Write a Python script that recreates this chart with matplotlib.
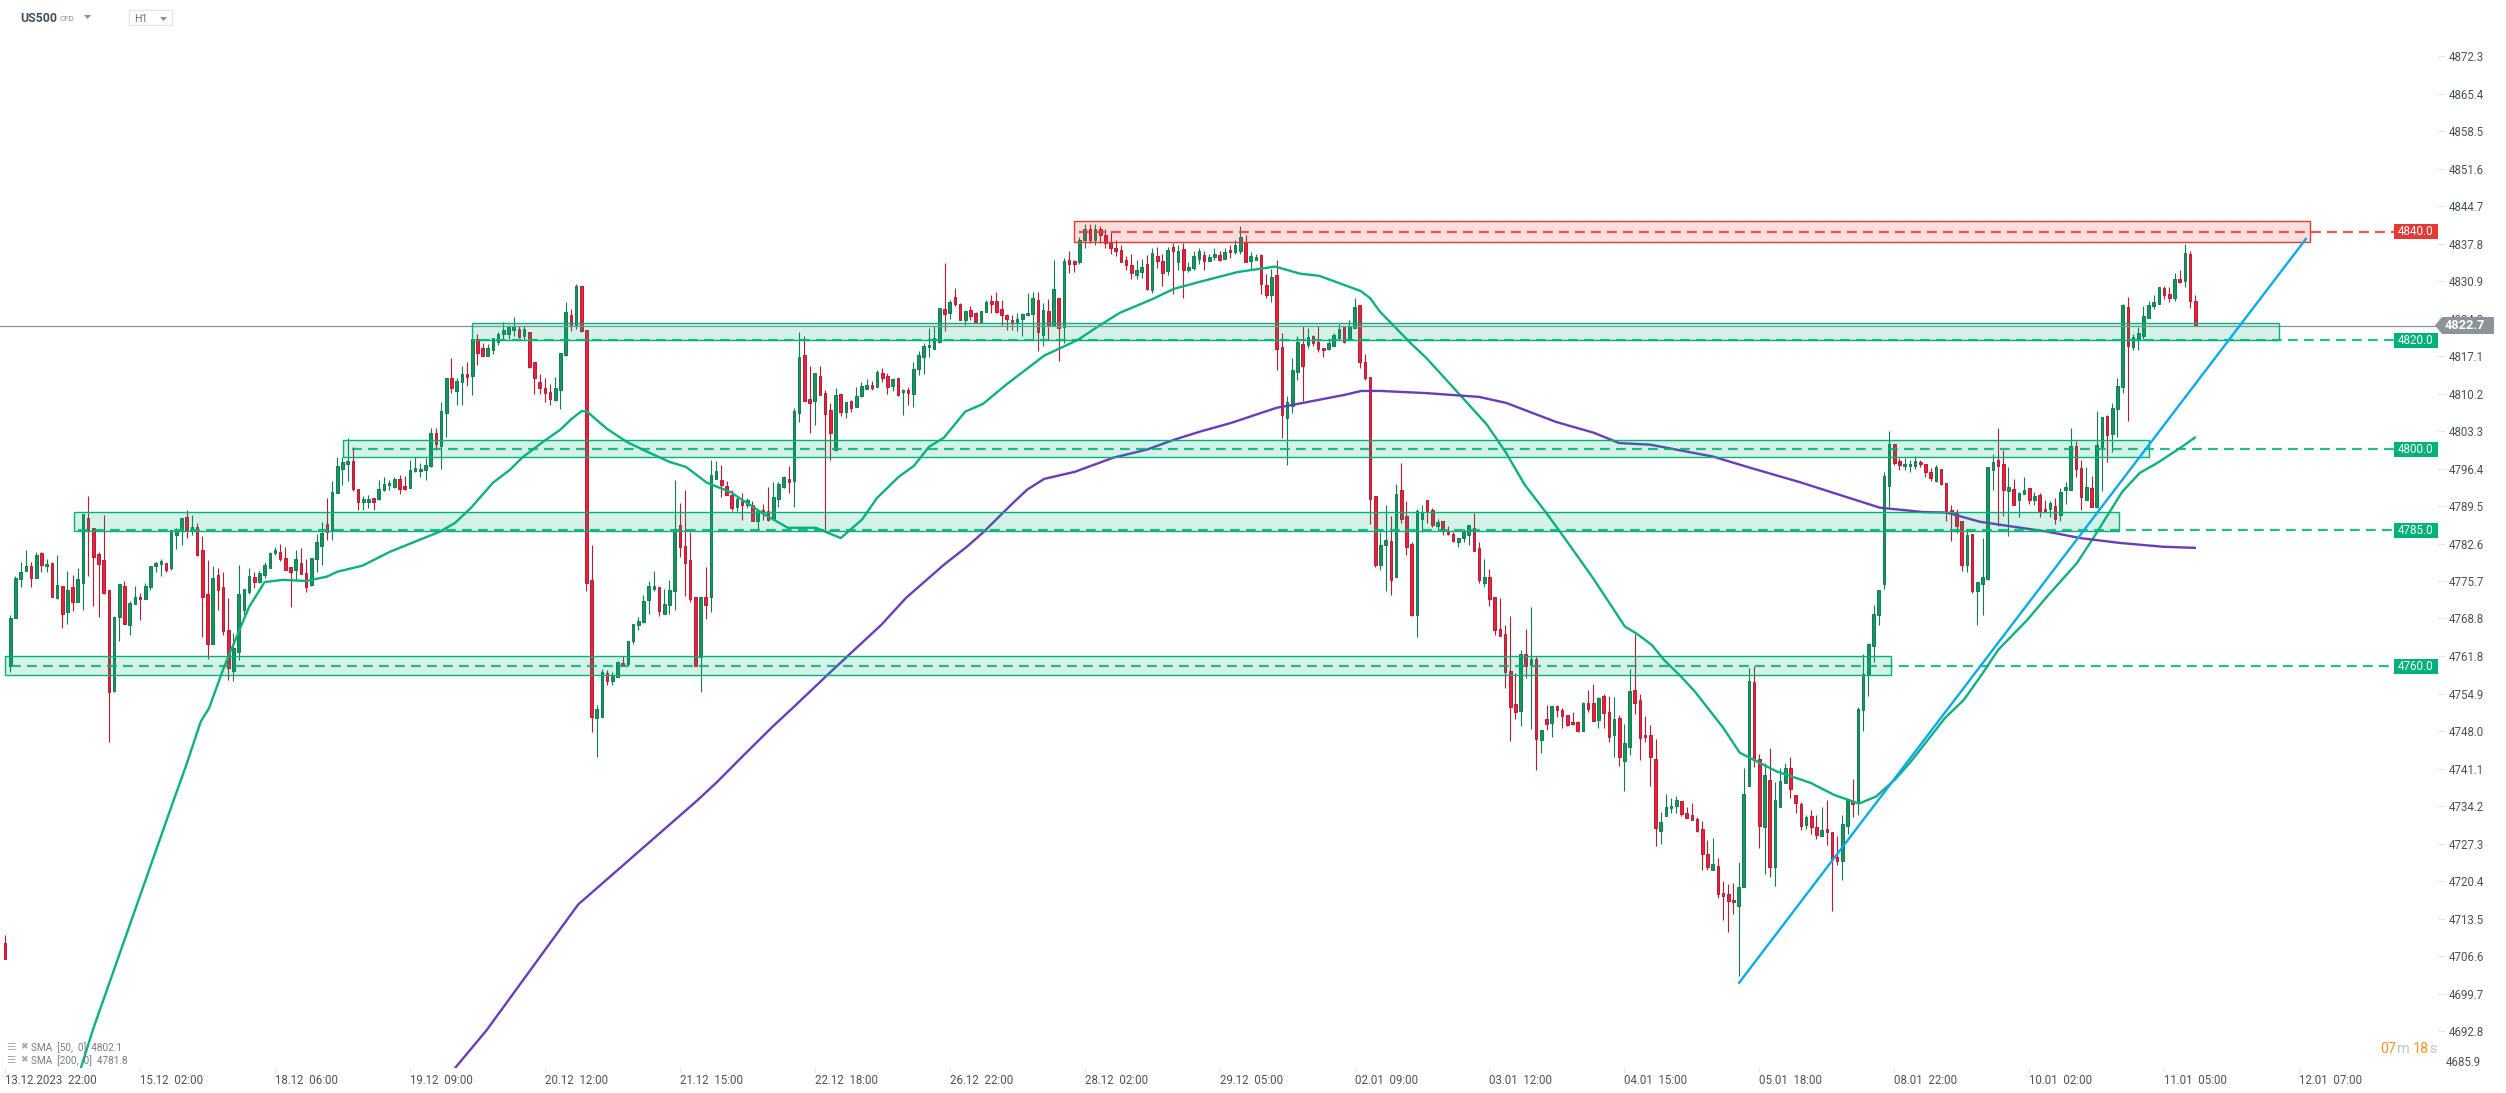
import numpy as np
import matplotlib
matplotlib.use("Agg")
import matplotlib.pyplot as plt
from matplotlib.patches import Rectangle, Polygon
from matplotlib.transforms import blended_transform_factory

plt.rcParams['font.family'] = ['Roboto', 'DejaVu Sans']

W, H = 2506, 1093

# hourly candles, first one is the lone bar at the far left edge
opens = [4709.0,
	4760.1,4768.9,4776.0,4777.5,4778.5,4776.2,4780.9,4778.4,4779.0,4772.5,
	4774.7,4769.9,4774.6,4771.8,4775.4,4787.3,4785.4,4780.6,4779.6,4774.0,
	4755.5,4769.0,4774.7,4767.5,4771.4,4772.7,4772.3,4774.5,4778.4,4778.9,
	4779.0,4778.1,4784.1,4785.0,4787.5,4785.0,4785.7,4781.4,4773.3,4764.1,
	4776.8,4774.6,4766.6,4759.2,4762.7,4770.4,4773.7,4776.4,4775.5,4776.8,
	4778.0,4780.8,4781.0,4779.9,4778.2,4777.8,4779.0,4777.1,4774.9,4779.7,
	4782.2,4786.2,4784.9,4791.9,4796.4,4797.3,4797.8,4792.6,4790.3,4790.3,
	4791.0,4790.8,4792.4,4793.3,4793.0,4794.4,4793.2,4792.9,4795.9,4795.9,
	4796.1,4796.8,4802.9,4800.5,4806.7,4813.0,4810.6,4812.4,4813.8,4813.4,
	4820.2,4818.6,4817.2,4818.3,4819.8,4821.1,4821.2,4822.0,4822.1,4820.8,
	4821.6,4816.0,4812.4,4811.3,4810.5,4809.1,4810.8,4817.3,4824.7,4822.9,
	4830.1,4821.9,4775.9,4750.4,4750.7,4758.7,4757.2,4758.1,4760.6,4760.4,
	4764.6,4767.5,4768.1,4772.2,4774.3,4774.6,4769.7,4771.3,4773.8,4786.0,
	4782.2,4779.5,4772.7,4761.7,4772.7,4772.7,4794.5,4794.3,4793.1,4791.6,
	4789.4,4790.5,4789.6,4789.6,4786.7,4788.7,4788.5,4787.1,4790.8,4793.0,
	4794.5,4794.2,4806.7,4817.3,4809.2,4808.8,4813.4,4810.3,4807.2,4799.9,
	4810.1,4806.9,4808.8,4807.7,4809.7,4811.0,4811.8,4811.4,4814.0,4813.4,
	4811.7,4813.1,4810.5,4810.9,4810.1,4814.8,4817.0,4818.7,4818.5,4819.8,
	4825.8,4825.0,4828.0,4826.8,4823.8,4825.6,4825.0,4823.2,4825.3,4827.3,
	4827.2,4825.8,4824.7,4823.8,4823.3,4824.0,4824.7,4824.8,4827.5,4821.0,
	4825.5,4822.6,4827.8,4822.4,4834.9,4834.7,4834.4,4838.5,4840.5,4838.5,
	4840.5,4839.5,4838.0,4837.0,4836.7,4834.9,4833.9,4832.0,4832.6,4834.1,
	4829.3,4835.6,4834.7,4832.7,4837.2,4834.4,4836.8,4832.9,4833.3,4835.0,
	4835.8,4834.6,4835.4,4835.8,4835.0,4836.7,4836.3,4836.5,4838.0,4834.6,
	4834.9,4835.8,4830.3,4828.4,4832.1,4818.8,4805.8,4808.0,4814.1,4819.4,
	4819.2,4820.9,4819.7,4818.6,4818.5,4819.0,4820.4,4822.7,4820.1,4822.2,
	4826.5,4816.0,4813.2,4791.4,4778.7,4782.4,4783.0,4776.5,4792.5,4787.6,
	4782.6,4769.5,4787.2,4790.7,4788.8,4785.9,4786.8,4784.8,4784.4,4782.9,
	4783.6,4784.1,4785.4,4781.8,4775.4,4776.4,4772.7,4766.8,4765.9,4759.2,
	4753.1,4751.7,4762.2,4760.3,4761.3,4746.4,4750.3,4749.5,4752.7,4752.0,
	4751.0,4749.7,4749.8,4748.0,4753.3,4753.2,4750.1,4754.6,4751.6,4747.3,
	4750.5,4742.5,4745.2,4755.6,4753.8,4747.3,4747.3,4742.9,4729.6,4732.5,
	4733.8,4734.2,4735.2,4733.0,4732.6,4731.9,4730.1,4725.4,4722.5,4723.2,
	4718.2,4718.0,4716.9,4715.8,4719.4,4738.0,4757.1,4742.9,4730.3,4739.0,
	4723.1,4734.0,4738.4,4741.2,4736.2,4734.6,4730.8,4732.5,4730.3,4728.8,
	4730.0,4729.4,4724.8,4724.2,4730.6,4735.1,4734.9,4752.0,4758.3,4763.8,
	4769.5,4775.1,4793.2,4800.9,4797.8,4796.8,4796.8,4796.9,4797.7,4797.2,
	4795.8,4794.2,4796.3,4793.7,4788.8,4788.2,4786.8,4778.7,4784.4,4773.8,
	4775.2,4776.1,4796.1,4798.0,4797.3,4792.2,4792.6,4790.6,4791.8,4792.8,
	4790.7,4791.6,4789.0,4788.9,4789.5,4787.8,4792.4,4792.5,4800.6,4796.5,
	4790.7,4792.9,4789.3,4800.3,4806.1,4802.7,4807.3,4811.4,4826.2,4818.7,
	4820.3,4820.8,4824.1,4826.4,4826.8,4829.7,4828.6,4827.8,4831.3,4830.9,
	4836.0,4827.3]

closes = [4706.0,
	4768.9,4776.2,4777.3,4778.5,4776.3,4780.5,4778.6,4778.9,4772.7,4774.9,
	4769.7,4774.0,4771.8,4776.0,4788.0,4785.1,4780.2,4778.9,4773.5,4755.3,
	4769.0,4775.1,4767.7,4771.6,4772.7,4772.3,4774.8,4778.4,4779.0,4779.4,
	4777.8,4785.0,4785.1,4787.3,4785.1,4785.7,4780.5,4772.7,4764.0,4776.2,
	4774.0,4766.4,4759.6,4763.3,4773.3,4774.2,4776.6,4775.5,4777.1,4778.6,
	4780.8,4781.4,4779.7,4777.8,4777.3,4779.7,4776.9,4774.6,4779.9,4782.9,
	4784.5,4784.8,4792.0,4796.9,4797.6,4797.8,4792.7,4790.2,4790.8,4790.8,
	4790.3,4792.6,4793.5,4793.7,4794.4,4792.7,4792.7,4796.1,4796.5,4796.3,
	4797.0,4802.9,4801.0,4807.0,4813.0,4811.3,4812.5,4813.8,4813.2,4820.2,
	4817.6,4817.2,4818.6,4820.4,4821.2,4821.9,4822.4,4822.7,4820.7,4822.1,
	4815.1,4813.0,4811.3,4810.4,4809.2,4811.2,4817.7,4825.2,4822.9,4830.1,
	4821.8,4775.4,4750.6,4752.1,4759.0,4757.2,4758.3,4760.7,4760.1,4764.7,
	4767.8,4768.3,4772.0,4774.7,4774.7,4770.2,4771.4,4774.0,4785.3,4781.9,
	4779.1,4772.4,4760.0,4772.7,4771.3,4795.2,4796.0,4793.3,4791.5,4789.2,
	4790.8,4789.6,4790.7,4786.8,4788.5,4788.2,4787.0,4791.1,4793.6,4794.9,
	4793.9,4807.0,4817.0,4808.8,4808.4,4814.0,4809.9,4806.4,4802.9,4810.0,
	4806.9,4808.6,4807.5,4809.8,4811.6,4811.8,4811.3,4814.2,4813.0,4811.5,
	4812.9,4810.0,4810.9,4810.4,4814.7,4817.3,4819.0,4819.1,4820.4,4826.0,
	4824.8,4827.1,4826.8,4823.7,4825.5,4824.5,4823.4,4825.4,4827.1,4826.8,
	4825.3,4824.6,4824.0,4823.3,4823.9,4824.9,4825.0,4827.8,4821.5,4825.6,
	4822.6,4829.5,4822.2,4834.7,4834.1,4834.1,4838.5,4840.5,4838.5,4840.5,
	4839.5,4838.0,4837.0,4836.5,4834.5,4833.9,4832.4,4833.0,4833.5,4829.5,
	4836.1,4834.6,4832.5,4836.7,4836.4,4836.5,4833.0,4833.6,4835.6,4836.5,
	4834.6,4835.4,4836.0,4834.9,4836.2,4836.3,4837.5,4839.0,4834.5,4835.6,
	4835.4,4830.4,4828.4,4831.7,4818.5,4806.2,4808.6,4814.6,4819.8,4815.2,
	4820.6,4819.6,4818.5,4818.2,4819.5,4821.0,4822.1,4819.8,4822.7,4826.2,
	4816.0,4813.1,4790.8,4778.7,4782.4,4783.3,4775.9,4791.8,4787.1,4782.0,
	4769.5,4788.6,4788.3,4788.5,4786.0,4786.6,4785.0,4784.4,4783.0,4783.7,
	4784.8,4786.0,4781.3,4775.9,4776.4,4772.4,4766.7,4765.6,4758.9,4752.4,
	4751.6,4762.2,4760.0,4761.3,4746.6,4748.2,4749.3,4752.7,4751.9,4750.8,
	4749.1,4749.3,4748.1,4753.3,4752.2,4750.0,4754.2,4751.3,4746.9,4750.3,
	4743.2,4745.9,4755.4,4753.3,4746.7,4746.9,4743.2,4730.2,4731.3,4734.0,
	4734.3,4735.4,4732.7,4732.0,4731.7,4729.7,4725.5,4723.0,4723.6,4718.0,
	4717.7,4716.7,4716.5,4719.3,4736.5,4757.3,4742.7,4730.5,4739.9,4723.1,
	4735.3,4738.8,4741.2,4737.3,4734.8,4730.6,4732.2,4730.3,4729.0,4729.8,
	4729.4,4724.5,4724.2,4730.9,4735.6,4734.6,4752.1,4758.5,4764.0,4769.7,
	4774.1,4795.1,4800.9,4797.4,4797.0,4797.3,4797.2,4797.8,4797.2,4795.8,
	4794.6,4796.7,4793.5,4788.3,4788.3,4785.8,4778.7,4784.2,4773.8,4775.6,
	4776.4,4796.7,4797.7,4796.9,4792.4,4793.0,4789.6,4791.9,4792.5,4790.7,
	4791.4,4788.5,4788.5,4790.1,4787.2,4792.1,4793.0,4800.5,4796.3,4791.1,
	4793.0,4789.4,4800.7,4805.9,4802.5,4807.6,4811.6,4826.5,4819.0,4820.6,
	4821.4,4824.5,4826.5,4827.1,4829.8,4828.3,4827.9,4831.3,4830.8,4836.1,
	4827.2,4822.7]

highs = [4710.5,
	4769.5,4776.7,4779.2,4781.4,4779.2,4781.0,4781.1,4779.7,4779.2,4780.5,
	4774.7,4777.6,4776.8,4778.1,4788.0,4791.3,4785.4,4781.0,4787.9,4774.0,
	4769.2,4775.1,4775.7,4772.0,4774.8,4773.5,4775.3,4778.4,4779.2,4779.7,
	4779.0,4785.0,4785.4,4787.3,4788.8,4787.9,4786.4,4784.0,4779.6,4778.5,
	4778.1,4777.3,4772.6,4766.1,4778.7,4774.2,4778.1,4777.3,4777.5,4779.2,
	4781.1,4782.0,4782.6,4782.0,4778.2,4781.4,4781.8,4779.7,4780.0,4784.4,
	4786.5,4791.0,4794.1,4798.6,4798.5,4802.0,4800.3,4792.6,4791.3,4791.6,
	4791.0,4794.3,4794.8,4794.3,4794.8,4795.2,4795.1,4798.0,4798.5,4797.4,
	4798.4,4803.9,4803.8,4808.7,4813.0,4816.7,4813.0,4815.3,4816.1,4820.2,
	4821.2,4819.5,4819.4,4820.4,4821.5,4823.4,4822.9,4824.3,4822.7,4822.6,
	4821.6,4816.0,4813.8,4813.1,4811.9,4813.3,4817.7,4827.0,4825.8,4830.4,
	4830.1,4821.9,4782.4,4752.9,4759.5,4759.3,4758.9,4760.9,4761.8,4764.7,
	4767.8,4769.0,4773.2,4775.7,4777.6,4774.6,4774.3,4775.9,4794.3,4790.0,
	4792.5,4784.8,4772.7,4772.7,4778.3,4798.0,4797.8,4797.1,4794.2,4792.5,
	4791.3,4791.9,4791.0,4790.4,4788.8,4789.9,4793.0,4794.0,4794.0,4795.1,
	4796.9,4807.5,4821.5,4820.9,4815.2,4814.0,4815.3,4810.9,4808.5,4811.2,
	4810.1,4808.6,4809.0,4811.5,4812.3,4812.9,4812.5,4814.5,4815.0,4814.0,
	4813.1,4813.1,4811.0,4811.5,4816.0,4818.0,4819.6,4822.3,4822.7,4826.0,
	4834.2,4827.4,4829.7,4826.9,4825.5,4826.4,4825.2,4825.5,4827.4,4828.4,
	4828.9,4827.4,4824.9,4824.7,4825.0,4825.0,4828.8,4829.0,4829.0,4826.9,
	4827.7,4834.9,4827.8,4835.2,4836.4,4834.9,4839.0,4841.5,4841.5,4841.5,
	4841.0,4840.5,4840.0,4838.5,4837.5,4835.5,4836.0,4834.9,4835.0,4835.8,
	4837.0,4837.2,4836.0,4837.3,4838.0,4837.5,4838.0,4834.5,4836.5,4837.0,
	4836.5,4836.0,4837.0,4836.5,4837.0,4837.5,4838.5,4841.0,4839.5,4836.2,
	4836.0,4836.0,4832.3,4833.1,4834.9,4821.4,4809.7,4816.7,4820.9,4822.7,
	4822.3,4821.0,4822.7,4818.6,4820.1,4821.4,4823.0,4822.7,4823.8,4827.9,
	4826.5,4817.5,4813.2,4791.4,4784.8,4789.7,4787.6,4793.6,4797.4,4790.5,
	4782.9,4789.0,4789.6,4790.7,4789.1,4787.1,4786.8,4785.9,4784.8,4783.7,
	4785.3,4786.0,4788.3,4782.8,4779.7,4777.9,4772.7,4772.6,4767.6,4769.3,
	4758.7,4762.9,4766.9,4770.9,4761.8,4748.2,4752.9,4752.7,4752.9,4752.3,
	4751.0,4751.6,4750.0,4753.4,4755.7,4756.8,4754.3,4754.9,4754.6,4754.3,
	4751.1,4749.4,4759.4,4766.0,4754.9,4750.9,4749.2,4746.6,4733.2,4736.5,
	4735.7,4736.1,4735.2,4734.1,4734.8,4732.2,4731.5,4728.0,4728.4,4724.7,
	4720.5,4719.9,4720.0,4723.9,4741.3,4759.7,4760.0,4743.8,4742.1,4744.9,
	4738.7,4741.2,4742.1,4743.3,4736.2,4734.9,4732.6,4733.6,4732.6,4734.0,
	4735.4,4729.4,4728.7,4732.6,4735.6,4739.2,4752.4,4762.2,4764.0,4771.3,
	4774.1,4795.8,4803.4,4800.9,4798.4,4798.4,4798.0,4798.8,4798.0,4797.2,
	4796.5,4797.1,4796.3,4793.7,4789.7,4789.0,4786.8,4785.2,4784.4,4775.6,
	4783.7,4796.7,4799.1,4803.9,4799.9,4796.7,4794.5,4792.1,4794.9,4792.8,
	4792.1,4791.9,4790.7,4790.4,4791.0,4792.8,4794.0,4803.9,4801.4,4798.0,
	4796.6,4795.1,4807.0,4805.9,4806.3,4808.4,4813.1,4826.8,4828.0,4821.2,
	4822.5,4826.4,4827.3,4828.4,4829.8,4830.1,4829.8,4832.5,4833.0,4837.8,
	4836.5,4828.4]

lows = [4706.0,
	4759.0,4768.9,4774.5,4777.5,4774.5,4776.2,4777.4,4777.4,4772.7,4772.4,
	4767.1,4767.8,4770.2,4771.8,4770.4,4776.7,4771.1,4769.0,4773.3,4746.1,
	4755.3,4764.6,4767.7,4765.7,4771.4,4768.5,4772.3,4774.0,4777.3,4776.7,
	4777.3,4777.8,4781.6,4782.4,4783.7,4784.2,4780.3,4765.3,4761.4,4764.0,
	4770.4,4765.7,4757.5,4757.3,4761.2,4769.5,4773.3,4774.4,4775.3,4776.2,
	4778.0,4780.5,4779.4,4777.7,4770.9,4775.9,4776.9,4773.7,4774.8,4777.3,
	4778.7,4783.2,4783.2,4791.9,4793.4,4794.2,4792.2,4788.8,4788.8,4789.1,
	4788.8,4790.6,4792.2,4792.5,4792.8,4791.7,4792.5,4792.8,4795.7,4794.8,
	4794.3,4796.6,4799.9,4796.4,4802.3,4810.4,4808.1,4808.1,4811.6,4810.0,
	4815.5,4817.2,4817.2,4817.5,4819.2,4820.3,4820.2,4820.8,4820.4,4820.0,
	4815.0,4810.2,4810.1,4808.6,4808.1,4808.8,4807.4,4817.2,4821.8,4822.1,
	4821.5,4773.8,4747.8,4743.3,4750.7,4756.5,4756.5,4758.1,4760.1,4760.0,
	4764.0,4766.6,4768.0,4769.7,4773.8,4769.3,4769.7,4769.7,4770.3,4780.2,
	4772.9,4771.9,4760.0,4755.3,4768.7,4769.9,4794.5,4791.1,4791.5,4788.5,
	4788.5,4786.9,4789.1,4786.8,4785.0,4787.0,4786.7,4787.1,4789.4,4792.8,
	4791.9,4789.4,4804.9,4808.8,4803.0,4804.5,4809.9,4784.8,4798.0,4799.7,
	4806.0,4805.8,4806.9,4807.7,4809.6,4811.0,4810.8,4811.4,4812.4,4810.2,
	4810.6,4809.7,4806.3,4808.2,4807.7,4813.7,4813.9,4816.9,4818.5,4819.6,
	4821.8,4824.0,4826.4,4823.7,4822.9,4823.8,4823.3,4823.2,4825.2,4825.0,
	4825.0,4822.9,4822.0,4822.0,4821.7,4820.9,4824.5,4820.2,4818.0,4818.9,
	4820.0,4822.6,4816.3,4819.6,4832.4,4832.6,4834.0,4837.0,4838.0,4837.5,
	4838.0,4837.0,4836.0,4835.5,4834.4,4832.9,4831.3,4831.4,4831.5,4829.3,
	4828.8,4833.3,4830.0,4832.1,4828.5,4833.0,4827.9,4832.6,4833.0,4834.0,
	4833.0,4834.6,4834.9,4834.6,4835.0,4835.2,4836.0,4836.0,4834.4,4833.0,
	4834.9,4828.5,4827.9,4827.0,4814.5,4802.0,4797.0,4806.7,4812.8,4808.8,
	4818.6,4818.9,4817.8,4816.9,4818.3,4818.9,4820.1,4819.6,4820.0,4822.2,
	4815.0,4812.8,4786.2,4778.2,4777.8,4773.9,4773.2,4776.4,4786.4,4780.4,
	4769.3,4765.3,4784.8,4786.4,4785.6,4785.3,4784.2,4784.2,4782.9,4781.9,
	4782.9,4782.4,4781.3,4775.4,4774.5,4771.0,4765.8,4765.5,4755.9,4746.3,
	4750.3,4748.9,4757.9,4748.5,4740.8,4744.1,4748.3,4746.9,4750.6,4748.7,
	4748.9,4749.2,4747.8,4748.0,4751.6,4750.0,4748.6,4748.7,4746.0,4743.2,
	4741.7,4737.0,4743.6,4751.2,4742.8,4746.0,4737.9,4726.8,4727.3,4732.5,
	4733.0,4733.0,4732.5,4732.0,4731.6,4729.4,4722.4,4722.5,4722.4,4717.4,
	4713.3,4711.0,4714.4,4703.0,4719.3,4738.0,4741.4,4726.5,4721.7,4721.2,
	4719.6,4734.0,4738.4,4735.8,4733.0,4729.8,4730.0,4729.1,4728.2,4728.8,
	4727.1,4715.0,4723.4,4720.6,4729.1,4732.3,4732.6,4748.1,4754.5,4760.7,
	4767.5,4774.3,4789.4,4797.1,4796.1,4796.1,4795.7,4796.4,4796.7,4794.8,
	4794.2,4794.0,4793.4,4786.7,4783.0,4784.5,4777.5,4777.3,4773.4,4767.5,
	4769.4,4775.9,4792.5,4785.8,4787.7,4783.9,4789.6,4787.4,4791.8,4789.8,
	4789.6,4787.4,4788.5,4787.4,4786.1,4786.8,4789.9,4792.4,4794.8,4788.8,
	4790.7,4789.4,4789.1,4792.2,4797.7,4799.4,4802.2,4810.4,4805.2,4818.2,
	4818.3,4820.3,4824.1,4825.7,4826.8,4827.7,4827.1,4827.3,4830.6,4829.8,
	4825.9,4822.7]

# moving averages, bar position and level
sma50_bar = [13.6,15.9,31.5,33.8,36.7,38.3,41.2,46,49,52.5,57,61,63,67.8,73.2,82.8,85.7,88.8,93,96.3,
	98.6,102.6,105.9,108.2,110.1,111.1,115,118.8,122.7,127.1,130.2,134.2,138.7,145.4,149.8,155.2,160,164.1,167,171.2,
	174.1,177,179.9,184,187.4,191.8,199.2,205.7,210.1,213.8,219.8,224.2,229.2,236.5,243.7,248.5,252.2,260.2,262,263.9,
	269.7,272.8,277.2,284.5,288.2,291.8,295.9,299.7,304.9,311.1,313.2,316.3,318.6,322,324.6,330,333.2,334.8,340.4,346.9,
	351.4,356.2,359.5,363.1,366,372.8,376.4,380.1,383,388.6,392.4,398.2,402,406.9,410.3,413.8,418.4,420.9]
sma50_val = [4686.0,4693,4735.4,4741.5,4749.8,4752.3,4759.9,4770.9,4775.5,4775.9,4775.7,4776.5,4777.4,4778.5,4781.1,4784.8,4786.4,4789.2,4793.8,4796.2,
	4798.4,4801.3,4803.5,4805.6,4807,4806.9,4803.7,4801.3,4799.5,4797.6,4796.7,4793.8,4792.1,4787.9,4785.5,4785.5,4783.6,4787,4791,4794.9,
	4796.9,4800.4,4802.1,4806.9,4808.3,4811.8,4817.2,4820.1,4822.9,4825.1,4827.5,4829.5,4830.8,4832.6,4833.6,4832.3,4831.9,4829.1,4827.8,4825.3,
	4819.6,4816.8,4812.2,4804.5,4799.3,4793.4,4788.3,4783.3,4776.3,4767.3,4766.1,4763.9,4761.2,4758,4755.3,4748.7,4744.1,4743.3,4740.6,4738.5,
	4736.3,4734.7,4736,4739.1,4742.2,4750.5,4753.8,4758.8,4763,4768.5,4772.8,4779,4784.6,4792.1,4795.6,4797.5,4800.4,4802.1]

sma200_bar = [85.7,91.8,109.4,132.5,136.2,141.4,146.8,150.4,157.9,161.6,167.8,172.6,179.9,184.3,187.4,192.8,195.9,199.2,205.1,212.5,
	219,224.2,229.2,235.2,244,249.1,257.2,260.3,263.9,272.8,283,288.2,297.8,305.1,310,316,328.1,335.4,344.8,360.2,
	368.5,373.1,379.5,385.9,392.4,398.8,406.5,414.8,420.9]
sma200_val = [4686,4693,4716.1,4735.4,4738.7,4743.7,4748.8,4752,4758.8,4762.1,4767.6,4772.6,4778.7,4782,4784.6,4789.7,4792.5,4794.5,4795.8,4798.4,
	4799.9,4801.7,4803.2,4804.8,4807.6,4808.5,4810,4810.7,4810.7,4810.3,4809.6,4808.5,4805,4803,4801.1,4800.8,4798.6,4796.5,4793.9,4789.2,
	4788.4,4788.3,4786.6,4785.7,4784.8,4783.6,4782.7,4782,4781.8]

# support/resistance zones: level, low, high, first bar, last bar
levels = [4840.0, 4820.0, 4800.0, 4785.0, 4760.0]
zone_low = [4838.1, 4820.1, 4798.5, 4784.9, 4758.4]
zone_high = [4842.0, 4823.2, 4801.6, 4788.4, 4761.9]
zone_start = [205, 89, 64.1, 12.2, -0.94]
zone_end = [443.1, 437.1, 412.1, 406.2, 362.3]
dash_start = [206, 90.5, 65.8, 13, 0.1]

trend_bar = [333.1, 442.3]
trend_val = [4701.7, 4838.7]
last_price = 4822.7

ytick_vals = [4872.3,4865.4,4858.5,4851.6,4844.7,4837.8,4830.9,4824.0,4817.1,4810.2,4803.3,4796.4,4789.5,4782.6,
	4775.7,4768.8,4761.8,4754.9,4748.0,4741.1,4734.2,4727.3,4720.4,4713.5,4706.6,4699.7,4692.8]
xtick_bars = [-1,25,51,77,103,129,155,181,207,233,259,285,311,337,363,389,415,441]
xtick_labels = ['13.12.2023  22:00','15.12  02:00','18.12  06:00','19.12  09:00','20.12  12:00','21.12  15:00',
	'22.12  18:00','26.12  22:00','28.12  02:00','29.12  05:00','02.01  09:00','03.01  12:00','04.01  15:00',
	'05.01  18:00','08.01  22:00','10.01  02:00','11.01  05:00','12.01  07:00']

GREEN = '#00b27a'
RED = '#e53935'
TEXT = '#4a5258'

fig = plt.figure(figsize=(W / 100, H / 100), dpi=100, facecolor='white')
# plot area ends where the price scale starts
ax = fig.add_axes([0, 25 / H, 2438 / W, 1 - 25 / H])
ax.set_xlim(-1.985, 467.76)
ax.set_ylim(4686.0, 4882.7)
for s in ax.spines.values():
	s.set_visible(False)

o = np.array(opens)
c = np.array(closes)
hi = np.array(highs)
lo = np.array(lows)
bars = np.arange(len(o)) - 1
up = c >= o

# wicks then bodies
ax.vlines(bars[up], lo[up], hi[up], color='#0f7d52', lw=0.8, zorder=2)
ax.vlines(bars[~up], lo[~up], hi[~up], color='#b81c33', lw=0.8, zorder=2)
ax.bar(bars[up], (c - o)[up], bottom=o[up], width=0.5, color='#17955f', edgecolor='#0f7d52', linewidth=0.7, zorder=2.1)
ax.bar(bars[~up], (c - o)[~up], bottom=o[~up], width=0.5, color='#ee2039', edgecolor='#b81c33', linewidth=0.7, zorder=2.1)

ax.plot(sma50_bar, sma50_val, color='#0db07e', lw=1.7, zorder=3)
ax.plot(sma200_bar, sma200_val, color='#6a3db8', lw=1.7, zorder=3)

ax.axhline(last_price, color='#8a9499', lw=0.9, zorder=3.5)

# zones sit on top of the candles, that is why the bars look washed out there
blend = blended_transform_factory(fig.transFigure, ax.transData)
for i, lev in enumerate(levels):
	col = RED if lev == 4840.0 else GREEN
	ax.add_patch(Rectangle((zone_start[i], zone_low[i]), zone_end[i] - zone_start[i], zone_high[i] - zone_low[i],
		facecolor=col, alpha=0.17, edgecolor='none', zorder=4))
	ax.add_patch(Rectangle((zone_start[i], zone_low[i]), zone_end[i] - zone_start[i], zone_high[i] - zone_low[i],
		facecolor='none', edgecolor=col, lw=1.0, zorder=4.1))
	ax.plot([dash_start[i], 459.3], [lev, lev], color=col, lw=1.6, alpha=0.85, dashes=(4.4, 2.8), zorder=5)
	ax.add_patch(Rectangle((2394 / W, lev - 1.38), 44 / W, 2.76, transform=blend, facecolor=col, edgecolor='none',
		clip_on=False, zorder=9))
	ax.text(2416 / W, lev, f'{lev:.1f}', transform=blend, color='white', fontsize=8.4, ha='center', va='center',
		clip_on=False, zorder=9.5)

ax.plot(trend_bar, trend_val, color='#0aa9ee', lw=1.7, zorder=6)

# price scale
ax.yaxis.tick_right()
ax.set_yticks(ytick_vals)
ax.set_yticklabels([f'{v:.1f}' for v in ytick_vals])
ax.tick_params(axis='y', length=5, width=0.7, color='#e3e5e6', labelcolor=TEXT, labelsize=8.3, pad=2.5)
ax.annotate('4685.9', xy=(1, 4685.9), xycoords=ax.get_yaxis_transform(), xytext=(8, 6), textcoords='offset pixels',
	color=TEXT, fontsize=8.3, va='center', annotation_clip=False)

# time scale
ax.set_xticks(xtick_bars)
ax.set_xticklabels(xtick_labels, ha='left')
ax.tick_params(axis='x', length=3, width=0.7, color='#e3e5e6', labelcolor=TEXT, labelsize=8.3, pad=1)

# last price tag
tag = [(2435, 325.5), (2442, 317), (2494, 317), (2494, 334), (2442, 334)]
ax.add_patch(Polygon([(x / W, 1 - y / H) for x, y in tag], transform=fig.transFigure, facecolor='#8a9499',
	edgecolor='none', clip_on=False, zorder=10))
fig.text(2465 / W, 1 - 325.5 / H, f'{last_price:.1f}', color='white', fontsize=9.2, fontweight='bold', ha='center',
	va='center', zorder=11)

# header
fig.text(20 / W, 1 - 18 / H, 'US500', color='#3f4f57', fontsize=8.8, fontweight='bold', va='center')
fig.text(60 / W, 1 - 19 / H, 'CFD', color='#8a8f93', fontsize=5.8, va='center')
fig.patches.append(Polygon([(84 / W, 1 - 15 / H), (91 / W, 1 - 15 / H), (87.5 / W, 1 - 19 / H)], transform=fig.transFigure,
	facecolor='#8f8f8f', edgecolor='none'))
fig.patches.append(Rectangle((128.5 / W, 1 - 25 / H), 43 / W, 15 / H, transform=fig.transFigure, facecolor='white',
	edgecolor='#e6e6e6', lw=1))
fig.text(134 / W, 1 - 19.5 / H, 'H1', color='#6b7074', fontsize=7.6, va='center')
fig.patches.append(Polygon([(160 / W, 1 - 17 / H), (167 / W, 1 - 17 / H), (163.5 / W, 1 - 21 / H)], transform=fig.transFigure,
	facecolor='#8f8f8f', edgecolor='none'))

# indicator legend, bottom left
legend_rows = [(1047, 'SMA  [50,  0]  4802.1'), (1060, 'SMA  [200,  0]  4781.8')]
for y, label in legend_rows:
	fig.text(11 / W, 1 - y / H, '\u2630', color='#a8a8a8', fontsize=7.5, ha='center', va='center', family='DejaVu Sans')
	fig.text(23.5 / W, 1 - y / H, '\u2716', color='#a8a8a8', fontsize=6.5, ha='center', va='center', family='DejaVu Sans')
	fig.text(31 / W, 1 - (y + 0.5) / H, label, color='#777c80', fontsize=7.2, va='center', zorder=8)

# candle countdown
for x, s, col in [(2380, '07', '#f7941d'), (2396.5, 'm', '#bfc3c6'), (2413, '18', '#f7941d'), (2429.5, 's', '#bfc3c6')]:
	fig.text(x / W, 1 - 1049 / H, s, color=col, fontsize=10.4, va='center')

fig.savefig('out.png', dpi=100)
